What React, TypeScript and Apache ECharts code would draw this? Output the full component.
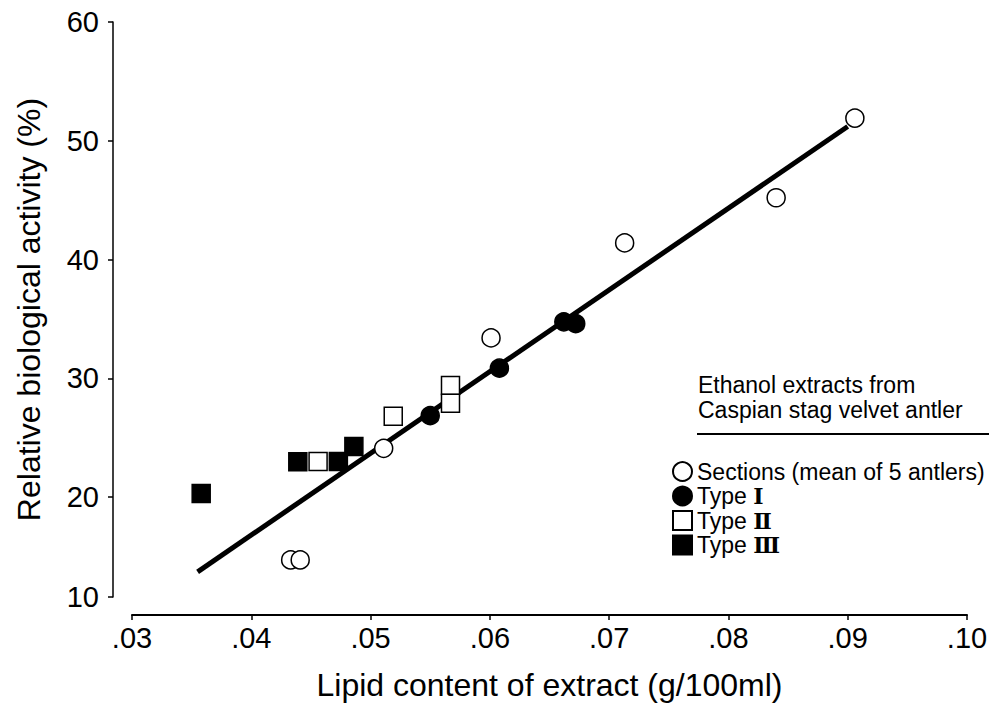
import React, { useEffect, useRef } from "react";
import * as echarts from "echarts";

// ---- data ----
const sections: [number, number][] = [
  [0.0906, 51.9],
  [0.084, 45.2],
  [0.0713, 41.4],
  [0.0601, 33.4],
  [0.0511, 24.1],
  [0.0433, 14.7],
  [0.0441, 14.7],
];
const typeI: [number, number][] = [
  [0.055, 26.85],
  [0.0608, 30.85],
  [0.0662, 34.75],
  [0.0672, 34.6],
];
const typeII: [number, number][] = [
  [0.0519, 26.8],
  [0.0567, 29.4],
  [0.0567, 27.9],
  [0.0456, 23.0],
];
const typeIII: [number, number][] = [
  [0.0358, 20.3],
  [0.0439, 22.97],
  [0.0473, 23.0],
  [0.0486, 24.25],
];
const fitLine: [number, number][] = [
  [0.0355, 13.7],
  [0.09, 51.2],
];

const xMin = 0.03;
const xMax = 0.1;
const yMin = 11.58; // bottom end of the drawn axis (labelled "10")
const yMax = 60;
const yTickValues = [yMin, 20, 30, 40, 50, 60];
const yTickLabels = ["10", "20", "30", "40", "50", "60"];

const seriesNames = [
  "Sections (mean of 5 antlers)",
  "Type \u2160",
  "Type \u2161",
  "Type \u2162",
];
const legendTitle = ["Ethanol extracts from", "Caspian stag velvet antler"];
const xTitle = "Lipid content of extract (g/100ml)";
const yTitle = "Relative biological activity (%)";

const FONT = "Liberation Sans, Arial, Helvetica, sans-serif";

export default function App() {
  const ref = useRef<HTMLDivElement>(null);
  useEffect(() => {
    if (!ref.current) return;
    const chart = echarts.init(ref.current, undefined, { renderer: "svg" });
    const mk = (
      name: string,
      data: [number, number][],
      symbol: string,
      fill: string
    ) => ({
      name,
      type: "scatter",
      data,
      symbol,
      symbolSize: 18,
      itemStyle: { color: fill, borderColor: "#000", borderWidth: 1.5, opacity: 1 },
      z: 3,
    });
    chart.setOption({
      animation: false,
      backgroundColor: "#fff",
      textStyle: { fontFamily: FONT },
      grid: { left: 132, right: 24, top: 22, bottom: 111 },
      xAxis: {
        type: "value",
        min: xMin,
        max: xMax,
        interval: 0.01,
        offset: 18,
        splitLine: { show: false },
        axisLine: { show: true, lineStyle: { color: "#000", width: 2 } },
        axisTick: { show: true, length: 5, lineStyle: { color: "#000", width: 1.5 } },
        axisLabel: {
          color: "#000",
          fontSize: 29,
          fontFamily: FONT,
          margin: 8,
          formatter: (v: number) => v.toFixed(2).replace(/^0/, ""),
        },
        name: xTitle,
        nameLocation: "middle",
        nameGap: 54,
        nameTextStyle: { color: "#000", fontSize: 32, fontFamily: FONT },
      },
      yAxis: {
        type: "value",
        min: yMin,
        max: yMax,
        offset: 19,
        splitLine: { show: false },
        axisLine: { show: true, lineStyle: { color: "#000", width: 1.5 } },
        axisTick: {
          show: true,
          length: 5,
          customValues: yTickValues,
          lineStyle: { color: "#000", width: 1.5 },
        },
        axisLabel: {
          color: "#000",
          fontSize: 29,
          fontFamily: FONT,
          margin: 14,
          customValues: yTickValues,
          formatter: (v: number) => {
            const i = yTickValues.findIndex((t) => Math.abs(t - v) < 1e-6);
            return i >= 0 ? yTickLabels[i] : "";
          },
        },
        name: yTitle,
        nameLocation: "middle",
        nameGap: 68,
        nameTextStyle: { color: "#000", fontSize: 32, fontFamily: FONT },
      },
      legend: {
        orient: "vertical",
        left: 672,
        top: 460,
        padding: 0,
        itemWidth: 19,
        itemHeight: 19,
        itemGap: 1.5,
        textStyle: {
          color: "#000",
          fontSize: 23,
          lineHeight: 21,
          fontFamily: FONT,
          rich: {
            r: {
              fontSize: 22,
              lineHeight: 21,
              fontFamily: "DejaVu Serif, Liberation Serif, serif",
              fontWeight: "bold",
              color: "#000",
            },
          },
        },
        formatter: (name: string) =>
          name.startsWith("Type ") ? "Type {r|" + name.slice(5) + "}" : name,
        data: [
          { name: seriesNames[0], icon: "circle" },
          { name: seriesNames[1], icon: "circle" },
          { name: seriesNames[2], icon: "rect" },
          { name: seriesNames[3], icon: "rect" },
        ],
      },
      graphic: [
        {
          type: "text",
          left: 698,
          top: 372,
          style: {
            text: legendTitle.join("\n"),
            fontSize: 23,
            lineHeight: 25,
            fontFamily: FONT,
            fill: "#000",
          },
        },
        {
          type: "line",
          shape: { x1: 697, y1: 434, x2: 989, y2: 434 },
          style: { stroke: "#000", lineWidth: 2 },
        },
      ],
      series: [
        {
          name: "fit",
          type: "line",
          data: fitLine,
          showSymbol: false,
          symbol: "none",
          lineStyle: { color: "#000", width: 5 },
          z: 2,
        },
        mk(seriesNames[0], sections, "circle", "#fff"),
        mk(seriesNames[1], typeI, "circle", "#000"),
        mk(seriesNames[2], typeII, "rect", "#fff"),
        mk(seriesNames[3], typeIII, "rect", "#000"),
      ],
    });
    return () => chart.dispose();
  }, []);
  return (
    <div
      ref={ref}
      style={{ position: "fixed", left: 0, top: 0, width: 991, height: 708, background: "#fff" }}
    />
  );
}
